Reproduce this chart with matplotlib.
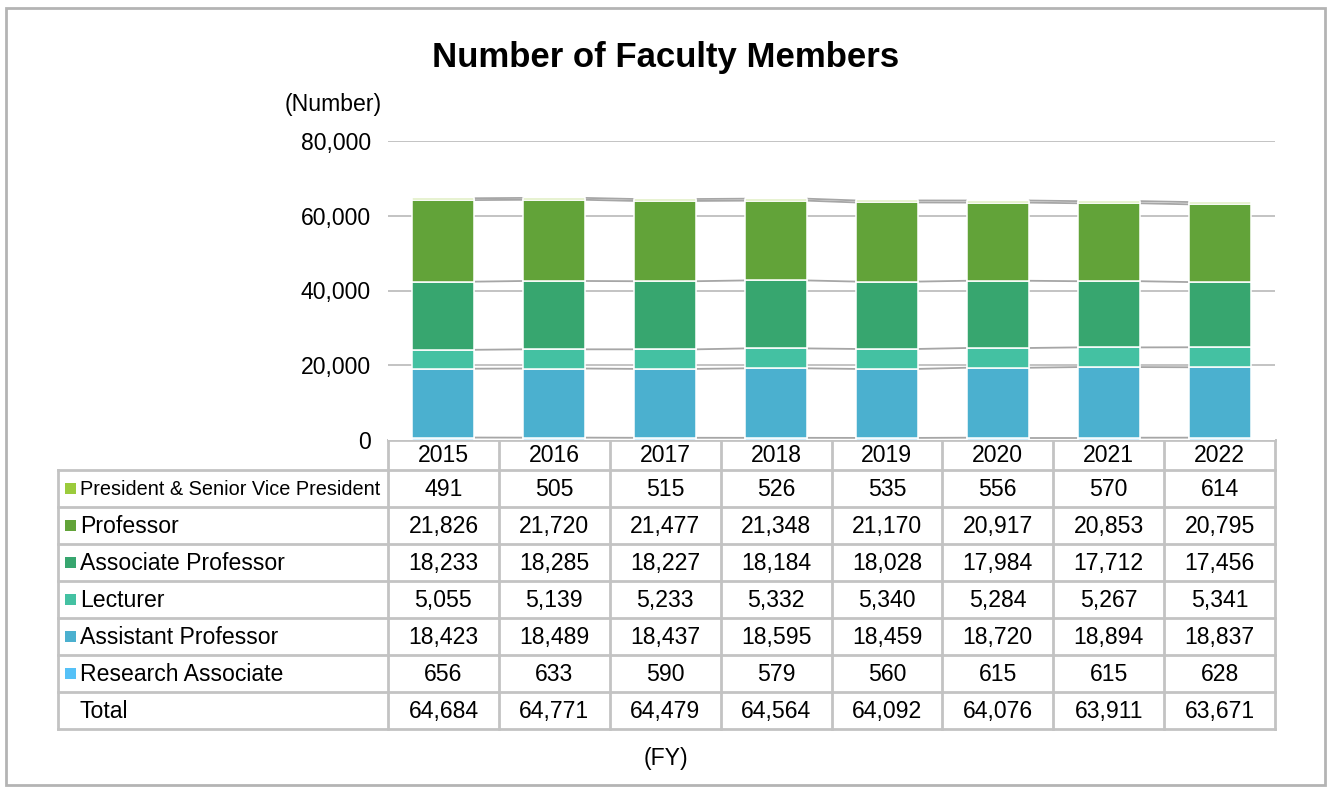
import matplotlib
matplotlib.use("Agg")
import matplotlib.pyplot as plt
import numpy as np

plt.rcParams['font.family'] = ['Liberation Sans', 'DejaVu Sans']

years = ["2015", "2016", "2017", "2018", "2019", "2020", "2021", "2022"]
president = [491, 505, 515, 526, 535, 556, 570, 614]
professor = [21826, 21720, 21477, 21348, 21170, 20917, 20853, 20795]
assoc_prof = [18233, 18285, 18227, 18184, 18028, 17984, 17712, 17456]
lecturer = [5055, 5139, 5233, 5332, 5340, 5284, 5267, 5341]
assist_prof = [18423, 18489, 18437, 18595, 18459, 18720, 18894, 18837]
research_assoc = [656, 633, 590, 579, 560, 615, 615, 628]
totals = [64684, 64771, 64479, 64564, 64092, 64076, 63911, 63671]

row_labels = ["President & Senior Vice President", "Professor", "Associate Professor",
              "Lecturer", "Assistant Professor", "Research Associate", "Total"]
row_data = [president, professor, assoc_prof, lecturer, assist_prof, research_assoc, totals]
row_colors = ["#9BCB3C", "#62A339", "#37A66F", "#44C1A2", "#4BB0CF", "#55C1F7", None]

# stacking order bottom -> top
stack_series = [research_assoc, assist_prof, lecturer, assoc_prof, professor, president]
stack_colors = ["#55C1F7", "#4BB0CF", "#44C1A2", "#37A66F", "#62A339", "#9BCB3C"]

W, H = 1327, 787
fig = plt.figure(figsize=(W / 100, H / 100), dpi=100)

def fx(px):
    return px / W

def fy(py):
    return 1 - py / H

FS = 16.6

# overlay axes in pixel coordinates
ov = fig.add_axes([0, 0, 1, 1])
ov.set_xlim(0, W)
ov.set_ylim(H, 0)
ov.axis('off')

# chart axes
left, right, top, bottom = 388, 1275, 141, 440
ax = fig.add_axes([fx(left), fy(bottom), fx(right - left), (bottom - top) / H])
ax.set_xlim(-0.5, len(years) - 0.5)
ax.set_ylim(0, 80000)
for s in ax.spines.values():
    s.set_visible(False)
ax.set_xticks([])
ax.set_yticks([0, 20000, 40000, 60000, 80000])
ax.set_yticklabels(["0", "20,000", "40,000", "60,000", "80,000"], fontsize=FS)
ax.tick_params(axis='y', length=0, pad=12.5)
for v in [20000, 40000, 60000, 80000]:
    ax.axhline(v, color="#C3C3C3", lw=1.4, zorder=0)

x = np.arange(len(years))
bw = 0.56
base = np.zeros(len(years))
levels = []
for vals, c in zip(stack_series, stack_colors):
    vals = np.array(vals, dtype=float)
    ax.bar(x, vals, bw, bottom=base, color=c, edgecolor="white", linewidth=1.1, zorder=2)
    base = base + vals
    levels.append(base.copy())

# series lines
for lev in levels:
    for i in range(len(years) - 1):
        ax.plot([x[i] + bw / 2, x[i + 1] - bw / 2], [lev[i], lev[i + 1]],
                color="#A6A6A6", lw=1.3, zorder=1, solid_capstyle='butt')

# title etc
ov.text(666, 57, "Number of Faculty Members", ha='center', va='center',
        fontsize=25, fontweight='bold')
ov.text(333, 104, "(Number)", ha='center', va='center', fontsize=FS)
ov.text(666, 758, "(FY)", ha='center', va='center', fontsize=FS)

# outer border
ov.add_patch(plt.Rectangle((6, 8), 1319, 777, fill=False, edgecolor="#B4B4B4", lw=2))

# table
grid_c = "#C3C3C3"
col_x = np.linspace(left, right, len(years) + 1)
tab_left = 58
row_y = [440, 470] + [470 + 37 * (k + 1) for k in range(len(row_labels))]
# header row
for k in range(len(years)):
    ov.text((col_x[k] + col_x[k + 1]) / 2, (row_y[0] + row_y[1]) / 2 + 1, years[k],
            ha='center', va='center', fontsize=FS)
# horizontal lines
ov.plot([left, right], [row_y[0], row_y[0]], color=grid_c, lw=2)
for yy in row_y[1:]:
    ov.plot([tab_left, right], [yy, yy], color=grid_c, lw=2)
# vertical lines
for xx in col_x:
    ov.plot([xx, xx], [row_y[0], row_y[-1]], color=grid_c, lw=2)
ov.plot([tab_left, tab_left], [row_y[1], row_y[-1]], color=grid_c, lw=2)

for r, (lab, vals, c) in enumerate(zip(row_labels, row_data, row_colors)):
    yc = (row_y[r + 1] + row_y[r + 2]) / 2
    if c is not None:
        ov.add_patch(plt.Rectangle((65, yc - 5.5), 11, 11, color=c, lw=0))
    fs = 14.3 if r == 0 else FS
    ov.text(80, yc + 1, lab, ha='left', va='center', fontsize=fs)
    for k, v in enumerate(vals):
        ov.text((col_x[k] + col_x[k + 1]) / 2, yc + 1, f"{v:,}",
                ha='center', va='center', fontsize=FS)

fig.savefig("out.png", dpi=100)
